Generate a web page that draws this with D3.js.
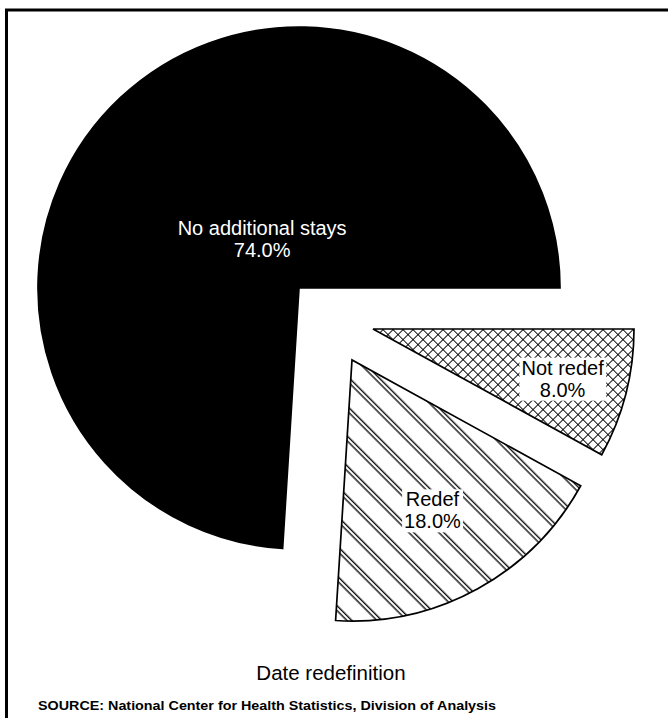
<!DOCTYPE html>
<html>
<head>
<meta charset="utf-8">
<script src="https://cdn.jsdelivr.net/npm/d3@7"></script>
<style>
  html, body { margin: 0; padding: 0; background: #fff; }
  svg { display: block; }
  text { font-family: "Liberation Sans", Arial, Helvetica, sans-serif; }
</style>
</head>
<body>
<div id="chart"></div>
<script>
// Share of stays by date redefinition status (percent)
const categories = ["Not redef", "Redef", "No additional stays"];
const shares = [8.0, 18.0, 74.0];
const title = "Date redefinition";
const source = "SOURCE: National Center for Health Statistics, Division of Analysis";

const W = 668, H = 718;
const cx = 299, cy = 288, R = 261;

const svg = d3.select("#chart").append("svg")
  .attr("width", W).attr("height", H);

// Fill patterns: cross-hatch and paired diagonal lines
const defs = svg.append("defs");

const cross = defs.append("pattern")
  .attr("id", "cross")
  .attr("patternUnits", "userSpaceOnUse")
  .attr("width", 7.07).attr("height", 7.07)
  .attr("patternTransform", "rotate(45)");
cross.append("rect").attr("width", 7.07).attr("height", 7.07).attr("fill", "#fff");
cross.append("path")
  .attr("d", "M0,-1 V8.1 M-1,0 H8.1")
  .attr("stroke", "#000").attr("stroke-width", 1.9).attr("fill", "none");

const diag = defs.append("pattern")
  .attr("id", "diag")
  .attr("patternUnits", "userSpaceOnUse")
  .attr("width", 21.2).attr("height", 10)
  .attr("patternTransform", "rotate(-45)");
diag.append("rect").attr("width", 21.2).attr("height", 10).attr("fill", "#fff");
diag.append("path")
  .attr("d", "M3,-1 V11 M6.5,-1 V11")
  .attr("stroke", "#000").attr("stroke-width", 1.3).attr("fill", "none");

const fills = {
  "Not redef": "url(#cross)",
  "Redef": "url(#diag)",
  "No additional stays": "#000"
};
// Exploded slices are pulled away from the centre
const explode = {
  "Not redef": [74, 41],
  "Redef": [53, 72],
  "No additional stays": [0, 0]
};
const labelR = {
  "Not redef": 0.75,
  "Redef": 0.64,
  "No additional stays": 0.24
};
const labelNudge = {
  "Not redef": [0, 0],
  "Redef": [0, 3],
  "No additional stays": [6, -4]
};

const data = categories.map((c, i) => ({ name: c, value: shares[i] }));

const pie = d3.pie()
  .sort(null)
  .value(d => d.value)
  .startAngle(Math.PI / 2)
  .endAngle(Math.PI / 2 + 2 * Math.PI);

const arc = d3.arc().innerRadius(0).outerRadius(R);

const arcs = pie(data);

const g = svg.append("g").attr("transform", `translate(${cx},${cy})`);

const slice = g.selectAll("g.slice")
  .data(arcs)
  .join("g")
  .attr("class", "slice")
  .attr("transform", d => `translate(${explode[d.data.name][0]},${explode[d.data.name][1]})`);

slice.append("path")
  .attr("d", arc)
  .attr("fill", d => fills[d.data.name])
  .attr("stroke", "#000")
  .attr("stroke-width", 1.7)
  .attr("stroke-linejoin", "miter");

// Slice labels
slice.each(function(d) {
  const sel = d3.select(this);
  const name = d.data.name;
  const lr = d3.arc().innerRadius(R * labelR[name]).outerRadius(R * labelR[name]);
  const [lx, ly] = lr.centroid(d);
  const dark = name === "No additional stays";
  const lg = sel.append("g")
    .attr("transform", `translate(${lx + labelNudge[name][0]},${ly + labelNudge[name][1]})`);
  const t = lg.append("text")
    .attr("text-anchor", "middle")
    .attr("font-size", 20)
    .attr("fill", dark ? "#fff" : "#000");
  t.append("tspan").attr("x", 0).attr("dy", "-0.15em").text(name);
  t.append("tspan").attr("x", 0).attr("dy", "1.1em").text(d.data.value.toFixed(1) + "%");
  if (!dark) {
    const bb = t.node().getBBox();
    lg.insert("rect", "text")
      .attr("x", bb.x - 2).attr("y", bb.y + 1)
      .attr("width", bb.width + 4).attr("height", bb.height - 1)
      .attr("fill", "#fff");
  }
});

// Title and source note
svg.append("text")
  .attr("x", 331).attr("y", 680)
  .attr("text-anchor", "middle")
  .attr("font-size", 20.5)
  .text(title);

svg.append("text")
  .attr("x", 38).attr("y", 710)
  .attr("font-size", 13)
  .attr("font-weight", "bold")
  .attr("textLength", 458)
  .attr("lengthAdjust", "spacingAndGlyphs")
  .text(source);

// Frame
svg.append("path")
  .attr("d", `M6.5,${H} V10 H${W}`)
  .attr("fill", "none")
  .attr("stroke", "#000")
  .attr("stroke-width", 3);
</script>
</body>
</html>
